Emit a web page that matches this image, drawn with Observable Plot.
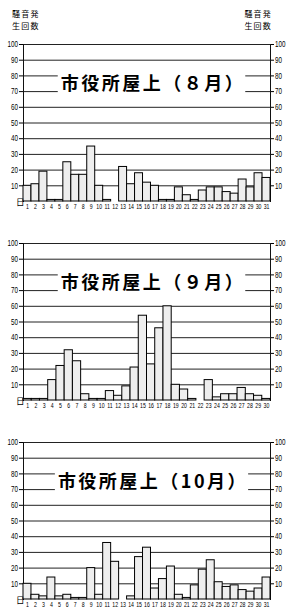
<!DOCTYPE html>
<html><head><meta charset="utf-8">
<script src="https://cdn.jsdelivr.net/npm/d3@7"></script>
<script src="https://cdn.jsdelivr.net/npm/@observablehq/plot@0.6"></script>
<style>
body{margin:0;background:#fff;width:286px;overflow:hidden;}
#hdr{position:relative;height:36px;font-family:"Noto Sans CJK JP",sans-serif;font-size:8px;line-height:12px;letter-spacing:1.2px;color:#000;}
#hdr .l{position:absolute;left:12px;top:8px;}
#hdr .r{position:absolute;right:14px;top:8px;text-align:right;}
svg{display:block;}
</style></head><body>
<div id="hdr"><div class="l">騒音発<br>生回数</div><div class="r">騒音発<br>生回数</div></div>
<div id="charts"></div>
<script>
const days31 = ["1","2","3","4","5","6","7","8","9","10","11","12","13","14","15","16","17","18","19","20","21","22","23","24","25","26","27","28","29","30","31"];
const days30 = days31.slice(0, 30);
const yTicks = [10, 20, 30, 40, 50, 60, 70, 80, 90, 100];
const titles = ["市役所屋上（８月）", "市役所屋上（９月）", "市役所屋上（10月）"];
const augValues = [10,11,19,1,1,25,17,17,35,10,1,0,22,11,18,12,10,1,1,9,4,1,7,9,9,6,5,14,9,18,15];
const sepValues = [1,1,1,13,22,32,25,4,1,1,6,3,9,21,54,23,46,60,10,7,1,0,13,2,4,4,8,4,3,1];
const octValues = [10,3,2,14,2,3,1,1,20,3,36,24,0,2,27,33,7,13,21,3,1,9,19,25,11,8,9,6,5,7,14];
const dayUnit = "日";

const panels = [
  {title: titles[0], days: days31, values: augValues},
  {title: titles[1], days: days30, values: sepValues},
  {title: titles[2], days: days31, values: octValues}
];

const numFont = '"Liberation Sans", Arial, sans-serif';
const cjkFont = '"Noto Sans CJK JP", sans-serif';
const container = document.getElementById("charts");

function squeeze(svg, label, k) {
  svg.querySelectorAll(`g[aria-label="${label}"] text`).forEach(t => {
    const tr = t.getAttribute("transform");
    if (tr) t.setAttribute("transform", tr + ` scale(${k},1)`);
    else {
      const x = +t.getAttribute("x") || 0, y = +t.getAttribute("y") || 0;
      t.removeAttribute("x"); t.removeAttribute("y");
      t.setAttribute("transform", `translate(${x},${y}) scale(${k},1)`);
    }
  });
}

for (const p of panels) {
  const data = p.days.map((d, i) => ({day: d, value: p.values[i]}));
  const chart = Plot.plot({
    width: 286, height: 199,
    marginTop: 8, marginBottom: 34, marginLeft: 23, marginRight: 16,
    style: {fontFamily: numFont, color: "#000", background: "#fff"},
    x: {type: "band", domain: p.days, padding: 0, round: false},
    y: {domain: [0, 100]},
    marks: [
      Plot.ruleY(yTicks, {stroke: "#222", strokeWidth: 1}),
      Plot.frame({anchor: "left", stroke: "#111"}),
      Plot.frame({anchor: "right", stroke: "#111"}),
      Plot.barY(data, {x: "day", y: "value", fill: "#eeeeee", stroke: "#000", strokeWidth: 1, inset: 0}),
      Plot.axisY({anchor: "left", ticks: yTicks, tickSize: 4, tickPadding: 1.5, fontSize: 8.5, label: null}),
      Plot.axisY({anchor: "right", ticks: yTicks, tickSize: 3, tickPadding: 1.5, fontSize: 8.5, label: null}),
      Plot.axisX({tickSize: 0, tickPadding: 3, fontSize: 6.5, label: null}),
      Plot.text([dayUnit], {frameAnchor: "bottom-left", dx: -7.5, dy: 3, fontSize: 8.5, fontFamily: cjkFont}),
      Plot.text([p.title], {frameAnchor: "top", lineAnchor: "middle", dx: 6, dy: 40, fontSize: 18, fontWeight: "bold",
        fontFamily: cjkFont, fill: "#000"})
    ]
  });
  squeeze(chart, "y-axis tick label", 0.74);
  squeeze(chart, "x-axis tick label", 0.8);
  container.appendChild(chart);
  // white box behind the title, sized from the rendered title text
  const t = Array.from(chart.querySelectorAll("text")).find(e => e.textContent === p.title);
  if (t) {
    t.setAttribute("letter-spacing", "2.5");
    const b = t.getBBox();
    const rect = document.createElementNS("http://www.w3.org/2000/svg", "rect");
    const tr = t.getAttribute("transform");
    if (tr) rect.setAttribute("transform", tr);
    rect.setAttribute("x", b.x - 3);
    rect.setAttribute("y", b.y + 1);
    rect.setAttribute("width", b.width + 3);
    rect.setAttribute("height", b.height + 1);
    rect.setAttribute("fill", "#fff");
    rect.setAttribute("stroke", "none");
    t.parentNode.insertBefore(rect, t);
  }
}
</script>
</body></html>
